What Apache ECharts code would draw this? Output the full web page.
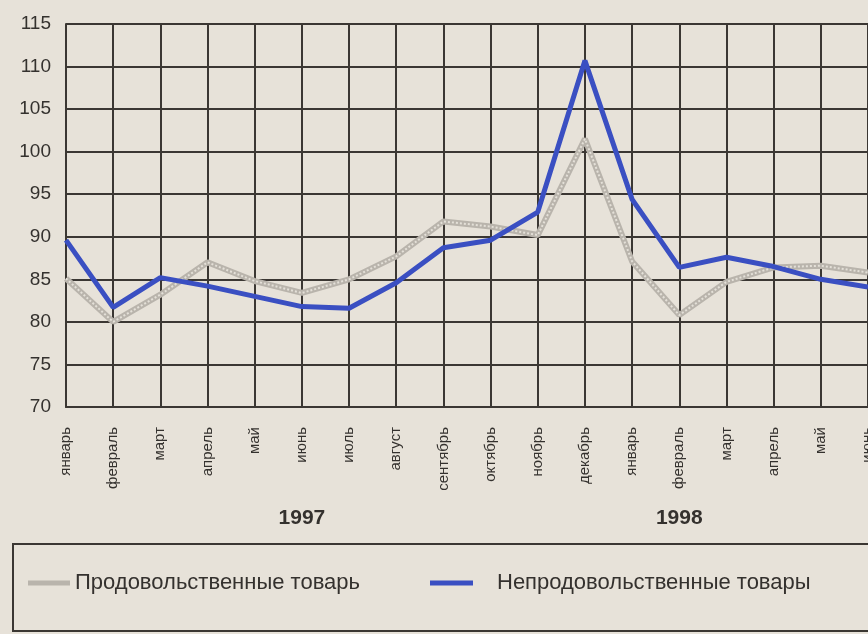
<!DOCTYPE html>
<html>
<head>
<meta charset="utf-8">
<script src="https://cdn.jsdelivr.net/npm/echarts@6/dist/echarts.min.js"></script>
<style>
html,body{margin:0;padding:0;background:#e7e2d9;overflow:hidden;}
#c{width:868px;height:634px;}
</style>
</head>
<body>
<div id="c"></div>
<script>
const months = ['январь','февраль','март','апрель','май','июнь','июль','август','сентябрь','октябрь','ноябрь','декабрь','январь','февраль','март','апрель','май','июнь'];
const yearRow = ['','','','','','1997','','','','','','','','1998','','','',''];
const foodName = 'Продовольственные товарь';
const nonFoodName = 'Непродовольственные товары';
const food = [85.1, 80.0, 83.2, 87.0, 84.8, 83.4, 85.0, 87.7, 91.8, 91.2, 90.2, 101.5, 87.1, 80.8, 84.7, 86.4, 86.6, 85.8];
const nonFood = [89.6, 81.7, 85.2, 84.2, 83.0, 81.8, 81.6, 84.6, 88.7, 89.6, 92.9, 110.7, 94.4, 86.4, 87.6, 86.5, 85.0, 84.1];
const yTicks = {min: 70, max: 115, step: 5};

const chart = echarts.init(document.getElementById('c'), null, {renderer: 'canvas'});
const txt = '#34312e';
const gridC = '#3b3733';
const legendText = {color: txt, fontSize: 22, fontFamily: 'Liberation Sans, Arial'};
chart.setOption({
  backgroundColor: '#e7e2d9',
  animation: false,
  grid: {left: 66, right: 0, top: 24, bottom: 227, containLabel: false, outerBoundsMode: 'none'},
  xAxis: [{
    type: 'category', data: months, boundaryGap: false,
    axisLine: {show: true, lineStyle: {color: gridC, width: 2}},
    axisTick: {show: false},
    splitLine: {show: true, interval: 0, lineStyle: {color: gridC, width: 2}},
    axisLabel: {interval: 0, rotate: 90, margin: 20, color: txt, fontSize: 15, fontFamily: 'Liberation Sans, Arial', hideOverlap: false}
  }, {
    type: 'category', data: yearRow, boundaryGap: false, position: 'bottom',
    axisLine: {show: false}, axisTick: {show: false}, splitLine: {show: false},
    axisLabel: {interval: 0, margin: 101, color: txt, fontSize: 21, fontWeight: 'bold', fontFamily: 'Liberation Sans, Arial'}
  }],
  yAxis: {
    type: 'value', min: yTicks.min, max: yTicks.max, interval: yTicks.step,
    axisLine: {show: true, lineStyle: {color: gridC, width: 2}},
    axisTick: {show: false},
    splitLine: {show: true, lineStyle: {color: gridC, width: 2}},
    axisLabel: {margin: 15, color: txt, fontSize: 19, fontFamily: 'Liberation Sans, Arial'}
  },
  legend: [{
    left: 23, top: 567, itemWidth: 42, itemHeight: 5, icon: 'rect',
    data: [foodName], textStyle: legendText
  }, {
    left: 425, top: 567, itemWidth: 43, itemHeight: 5, icon: 'rect',
    data: [nonFoodName], textStyle: Object.assign({}, legendText, {padding: [0, 0, 0, 19]})
  }],
  graphic: [{
    type: 'rect', shape: {x: 13, y: 544, width: 880, height: 87},
    style: {fill: 'none', stroke: '#3b3733', lineWidth: 2}, silent: true
  }],
  series: [{
    name: foodName, type: 'line', data: food, showSymbol: false, z: 2,
    lineStyle: {color: '#b9b4ac', width: 6}, itemStyle: {color: '#b9b4ac'}
  }, {
    name: 'foodTexture', type: 'line', data: food, showSymbol: false, z: 3,
    lineStyle: {color: '#e4e0d8', width: 2, type: [2, 2]}
  }, {
    name: nonFoodName, type: 'line', data: nonFood, showSymbol: false, z: 4,
    lineStyle: {color: '#3a4fc2', width: 5}, itemStyle: {color: '#3a4fc2'}
  }]
});
</script>
</body>
</html>
